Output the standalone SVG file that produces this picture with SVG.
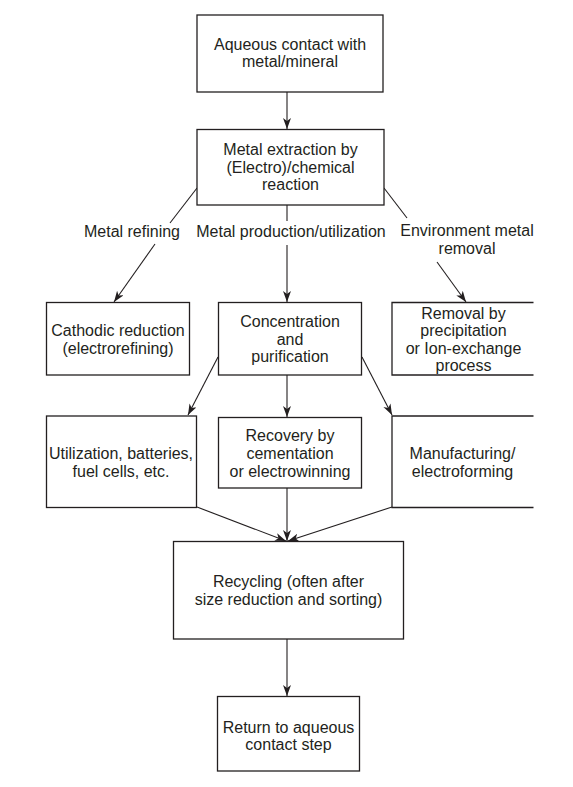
<svg xmlns="http://www.w3.org/2000/svg" width="573" height="787" viewBox="0 0 573 787">
<style>
.box{fill:#fff;stroke:#231f20;stroke-width:1.3}
.open{fill:none;stroke:#231f20;stroke-width:1.3}
.t{font-family:"Liberation Sans",Arial,sans-serif;font-size:16px;fill:#231f20;text-anchor:middle}
.c{fill:none;stroke:#231f20;stroke-width:1.1}
</style>
<defs>
<marker id="ah" markerWidth="12" markerHeight="10" refX="11" refY="4" orient="auto" markerUnits="userSpaceOnUse">
<path d="M0,0 L11,4 L0,8 L3,4 z" fill="#231f20"/>
</marker>
</defs>
<rect width="573" height="787" fill="#fff"/>
<g id="connectors">
<line class="c" x1="287" y1="92" x2="287" y2="129" marker-end="url(#ah)"/>
<line class="c" x1="197" y1="188" x2="170" y2="223"/>
<line class="c" x1="155" y1="244" x2="114" y2="302" marker-end="url(#ah)"/>
<line class="c" x1="287" y1="205" x2="287" y2="221"/>
<line class="c" x1="287" y1="245" x2="287" y2="302" marker-end="url(#ah)"/>
<line class="c" x1="384" y1="188" x2="407" y2="218"/>
<line class="c" x1="437" y1="262" x2="466" y2="302" marker-end="url(#ah)"/>
<line class="c" x1="218" y1="357" x2="188" y2="415" marker-end="url(#ah)"/>
<line class="c" x1="287" y1="375" x2="287" y2="417" marker-end="url(#ah)"/>
<line class="c" x1="362" y1="357" x2="392" y2="415" marker-end="url(#ah)"/>
<line class="c" x1="197" y1="507" x2="286" y2="541" marker-end="url(#ah)"/>
<line class="c" x1="287" y1="488" x2="287" y2="541" marker-end="url(#ah)"/>
<line class="c" x1="392" y1="507" x2="288" y2="541" marker-end="url(#ah)"/>
<line class="c" x1="287" y1="639" x2="287" y2="696" marker-end="url(#ah)"/>
</g>
<g id="labels">
<text class="t" x="132" y="237">Metal refining</text>
<text class="t" x="291" y="237">Metal production/utilization</text>
<text class="t" x="467" y="236">Environment metal</text>
<text class="t" x="467" y="254">removal</text>
</g>
<g id="n1">
<rect class="box" x="197" y="15" width="186" height="77"/>
<text class="t" x="290" y="49.5">Aqueous contact with</text>
<text class="t" x="290" y="67">metal/mineral</text>
</g>
<g id="n2">
<rect class="box" x="197" y="129.5" width="187" height="75.5"/>
<text class="t" x="290.5" y="155">Metal extraction by</text>
<text class="t" x="290.5" y="172.5">(Electro)/chemical</text>
<text class="t" x="290.5" y="190">reaction</text>
</g>
<g id="n3">
<rect class="box" x="46.5" y="302.5" width="143" height="72.5"/>
<text class="t" x="118" y="336">Cathodic reduction</text>
<text class="t" x="118" y="353.5">(electrorefining)</text>
</g>
<g id="n4">
<rect class="box" x="218.5" y="302.5" width="143" height="72.5"/>
<text class="t" x="290" y="327">Concentration</text>
<text class="t" x="290" y="344.5">and</text>
<text class="t" x="290" y="362">purification</text>
</g>
<g id="n5">
<path class="open" d="M533.5,302.5 H392 V375 H533.5"/>
<text class="t" x="463.5" y="318.5">Removal by</text>
<text class="t" x="463.5" y="336">precipitation</text>
<text class="t" x="463.5" y="353.5">or Ion-exchange</text>
<text class="t" x="463.5" y="370.5">process</text>
</g>
<g id="n6">
<rect class="box" x="46.5" y="416" width="150" height="91.5"/>
<text class="t" x="121" y="458.5">Utilization, batteries,</text>
<text class="t" x="121" y="476.5">fuel cells, etc.</text>
</g>
<g id="n7">
<rect class="box" x="218.5" y="417.5" width="143" height="70.5"/>
<text class="t" x="290" y="441">Recovery by</text>
<text class="t" x="290" y="458.5">cementation</text>
<text class="t" x="290" y="476.5">or electrowinning</text>
</g>
<g id="n8">
<path class="open" d="M533.5,416 H392 V507.5 H533.5"/>
<text class="t" x="462.5" y="458.5">Manufacturing/</text>
<text class="t" x="462.5" y="476.5">electroforming</text>
</g>
<g id="n9">
<rect class="box" x="173.5" y="541.5" width="230" height="97.5"/>
<text class="t" x="288.5" y="587">Recycling (often after</text>
<text class="t" x="288.5" y="604.5">size reduction and sorting)</text>
</g>
<g id="n10">
<rect class="box" x="217.5" y="696.5" width="142" height="74.5"/>
<text class="t" x="288.5" y="732.5">Return to aqueous</text>
<text class="t" x="288.5" y="750">contact step</text>
</g>
</svg>
